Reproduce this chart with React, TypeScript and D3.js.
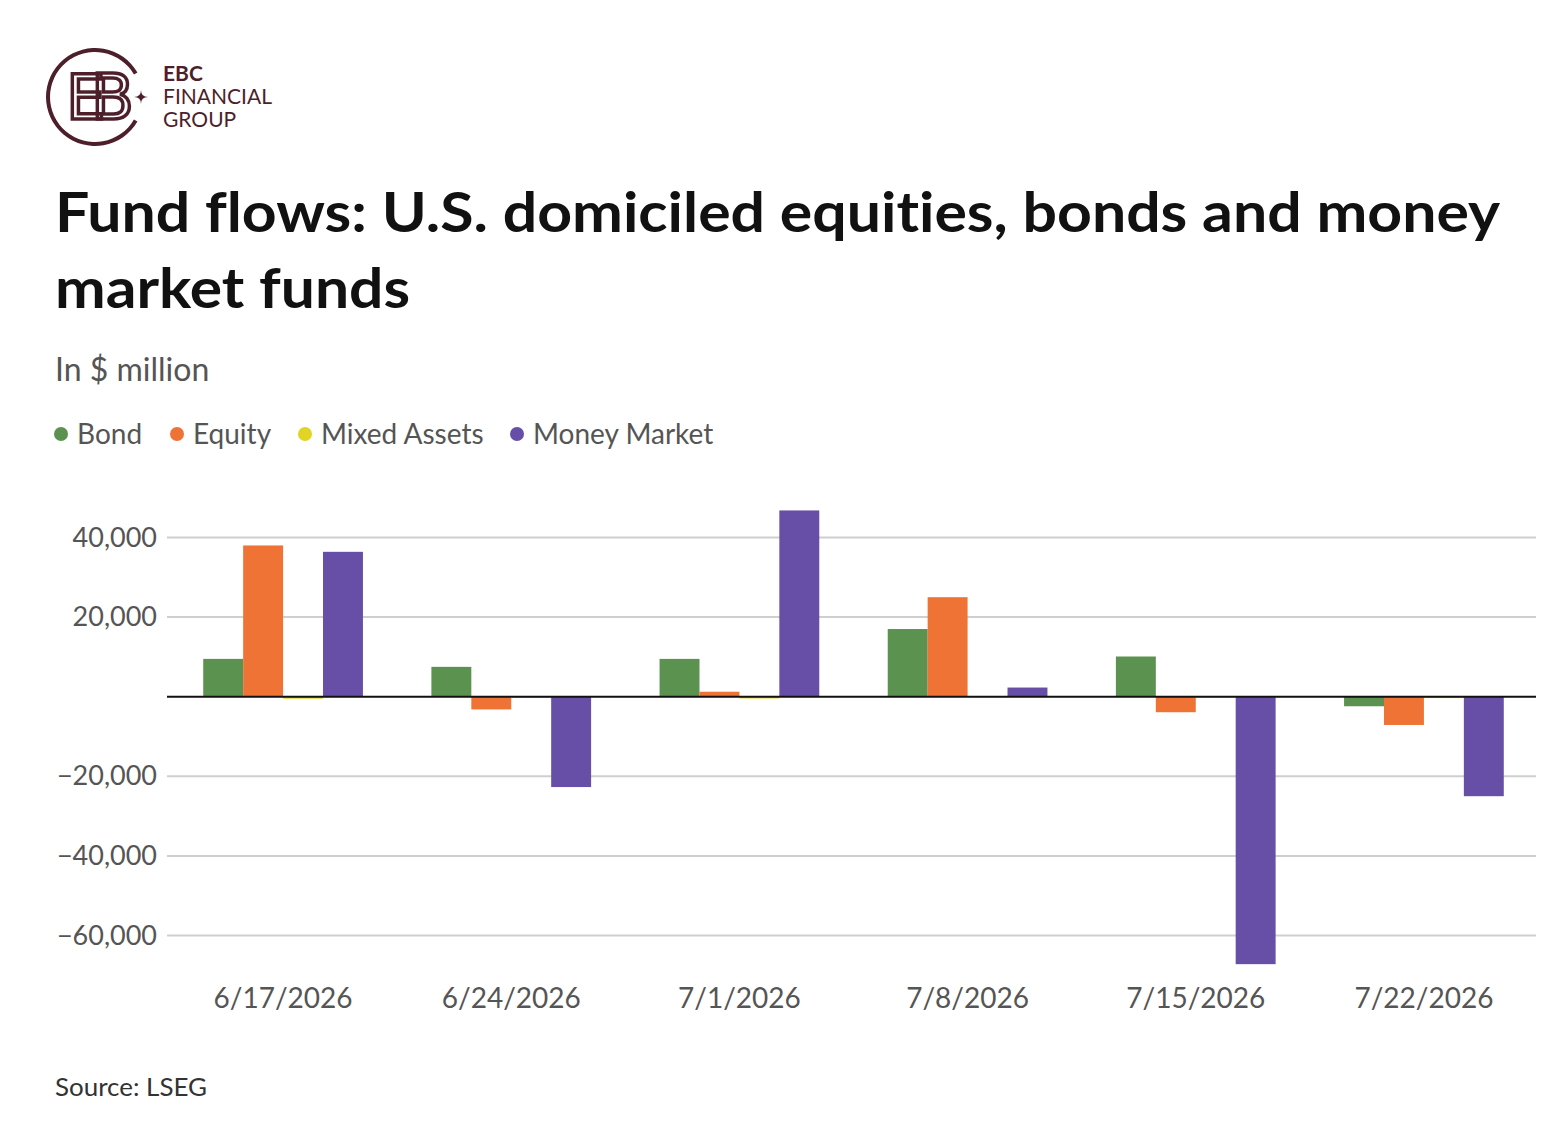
import React, { useEffect, useRef } from "react";
import * as d3 from "d3";

// weeks on the x axis
const weeks = ["6/17/2026", "6/24/2026", "7/1/2026", "7/8/2026", "7/15/2026", "7/22/2026"];
const seriesNames = ["Bond", "Equity", "Mixed Assets", "Money Market"];
const seriesColors = ["#5b924f", "#ee7334", "#e2d424", "#674ea7"];

// weekly flows, $ million
const bond = [9500, 7500, 9500, 17000, 10100, -2400];
const equity = [38000, -3200, 1250, 25000, -3900, -7100];
const mixedAssets = [-500, -300, -450, -150, -200, -350];
const moneyMarket = [36400, -22700, 46800, 2300, -67200, -25000];

const yTicks = [40000, 20000, 0, -20000, -40000, -60000];

const FONT = "Lato, 'Open Sans', sans-serif";
const MAROON = "#4d1f2a";

export default function App() {
  const ref = useRef<SVGSVGElement>(null);

  useEffect(() => {
    if (!ref.current) return;
    document.body.style.margin = "0";
    const svg = d3.select(ref.current);
    svg.selectAll("*").remove();

    const W = 1568;
    const H = 1136;
    svg.append("rect").attr("width", W).attr("height", H).attr("fill", "#fff");

    // --- logo ---
    const logo = svg.append("g").attr("transform", "translate(95,97)");
    logo
      .append("path")
      .attr(
        "d",
        d3.arc()({ innerRadius: 45, outerRadius: 49, startAngle: (2 * Math.PI) / 3, endAngle: (2 * Math.PI) / 3 + (300 * Math.PI) / 180 }) as string
      )
      .attr("fill", MAROON);
    logo
      .append("text")
      .attr("x", -2)
      .attr("y", 22)
      .attr("text-anchor", "middle")
      .attr("font-family", "'DejaVu Sans', sans-serif")
      .attr("font-size", 62)
      .attr("letter-spacing", -14)
      .attr("fill", "none")
      .attr("stroke", MAROON)
      .attr("stroke-width", 3.5)
      .text("EB");
    const star = d3.path();
    star.moveTo(46, -7);
    star.quadraticCurveTo(46, 0, 53, 0);
    star.quadraticCurveTo(46, 0, 46, 7);
    star.quadraticCurveTo(46, 0, 39, 0);
    star.quadraticCurveTo(46, 0, 46, -7);
    logo.append("path").attr("d", star.toString()).attr("fill", MAROON);

    const logoText = svg.append("g").attr("font-family", FONT).attr("fill", MAROON).attr("font-size", 21);
    logoText.append("text").attr("x", 163).attr("y", 81).attr("font-weight", 700).text("EBC");
    logoText.append("text").attr("x", 163).attr("y", 104).text("FINANCIAL");
    logoText.append("text").attr("x", 163).attr("y", 127).text("GROUP");

    // --- titles ---
    const title = svg
      .append("g")
      .attr("font-family", FONT)
      .attr("font-weight", 700)
      .attr("font-size", 56)
      .attr("fill", "#111")
      .style("font-variant-ligatures", "none");
    title
      .append("text")
      .attr("x", 55)
      .attr("y", 232)
      .attr("textLength", 1445)
      .attr("lengthAdjust", "spacingAndGlyphs")
      .text("Fund flows: U.S. domiciled equities, bonds and money");
    title
      .append("text")
      .attr("x", 55)
      .attr("y", 308)
      .attr("textLength", 355)
      .attr("lengthAdjust", "spacingAndGlyphs")
      .text("market funds");
    svg
      .append("text")
      .attr("x", 55)
      .attr("y", 381)
      .attr("font-family", FONT)
      .attr("font-size", 32)
      .attr("fill", "#555")
      .text("In $ million");

    // --- legend ---
    const legendX = [61, 177, 305, 517];
    const legend = svg.append("g").attr("font-family", FONT).attr("font-size", 28).attr("fill", "#555");
    seriesNames.forEach((name, i) => {
      legend.append("circle").attr("cx", legendX[i]).attr("cy", 434).attr("r", 7).attr("fill", seriesColors[i]);
      legend
        .append("text")
        .attr("x", legendX[i] + 16)
        .attr("y", 444)
        .text(name);
    });

    // --- chart ---
    const left = 167;
    const right = 1536;
    const x0 = d3.scaleBand().domain(weeks).range([left + 2, right + 2]).paddingInner(0.3).paddingOuter(0.15);
    const x1 = d3.scaleBand().domain(seriesNames).range([0, x0.bandwidth()]);
    const y = d3.scaleLinear().domain([-60000, 40000]).range([935.5, 537.5]);

    // gridlines
    svg
      .append("g")
      .selectAll("line")
      .data(yTicks.filter((t) => t !== 0))
      .join("line")
      .attr("x1", left)
      .attr("x2", right)
      .attr("y1", (d) => y(d))
      .attr("y2", (d) => y(d))
      .attr("stroke", "#cfcfcf")
      .attr("stroke-width", 2);

    // y tick labels
    const fmt = d3.format(",");
    svg
      .append("g")
      .attr("font-family", FONT)
      .attr("font-size", 27)
      .attr("fill", "#555")
      .attr("text-anchor", "end")
      .selectAll("text")
      .data(yTicks.filter((t) => t !== 0))
      .join("text")
      .attr("x", 157)
      .attr("y", (d) => y(d) + 9)
      .text((d) => (d < 0 ? "\u2212" + fmt(-d) : fmt(d)));

    // bars
    const seriesValues = [bond, equity, mixedAssets, moneyMarket];
    const rows = weeks.flatMap((w, wi) =>
      seriesNames.map((s, si) => ({ week: w, series: s, color: seriesColors[si], value: seriesValues[si][wi] }))
    );
    svg
      .append("g")
      .selectAll("rect")
      .data(rows)
      .join("rect")
      .attr("x", (d) => (x0(d.week) as number) + (x1(d.series) as number))
      .attr("width", x1.bandwidth())
      .attr("y", (d) => Math.min(y(d.value), y(0)))
      .attr("height", (d) => Math.abs(y(d.value) - y(0)))
      .attr("fill", (d) => d.color);

    // zero line
    svg
      .append("line")
      .attr("x1", left)
      .attr("x2", right)
      .attr("y1", y(0))
      .attr("y2", y(0))
      .attr("stroke", "#111")
      .attr("stroke-width", 2);

    // x labels
    svg
      .append("g")
      .attr("font-family", FONT)
      .attr("font-size", 28)
      .attr("fill", "#555")
      .attr("text-anchor", "middle")
      .selectAll("text")
      .data(weeks)
      .join("text")
      .attr("x", (d) => (x0(d) as number) + x0.bandwidth() / 2)
      .attr("y", 1008)
      .text((d) => d);

    // source
    svg
      .append("text")
      .attr("x", 55)
      .attr("y", 1096)
      .attr("font-family", FONT)
      .attr("font-size", 25)
      .attr("fill", "#333")
      .attr("textLength", 152)
      .attr("lengthAdjust", "spacingAndGlyphs")
      .text("Source: LSEG");
  }, []);

  return <svg ref={ref} width={1568} height={1136} style={{ display: "block" }} />;
}
